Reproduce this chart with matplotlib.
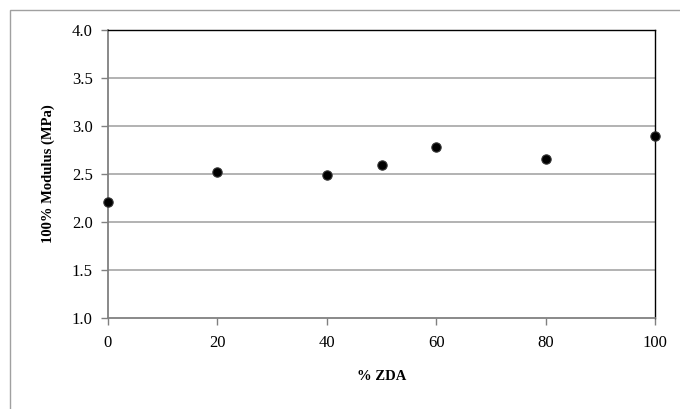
import matplotlib.pyplot as plt
from matplotlib.patches import Rectangle

zda = [0, 20, 40, 50, 60, 80, 100]
modulus = [2.21, 2.52, 2.49, 2.59, 2.78, 2.66, 2.90]
y_ticks = [1.0, 1.5, 2.0, 2.5, 3.0, 3.5, 4.0]
x_ticks = [0, 20, 40, 60, 80, 100]

plt.rcParams['font.family'] = ['Liberation Serif', 'DejaVu Serif']

fig = plt.figure(figsize=(6.8, 4.09), dpi=100)
ax = fig.add_axes([108 / 680, 1 - 318 / 409, (655 - 108) / 680, (318 - 30) / 409])

# outer chart border (cropped at right/bottom like the original)
fig.patches.append(Rectangle((10 / 680, -0.1), 1.1, 1 - 10 / 409 + 0.1,
                             transform=fig.transFigure, fill=False,
                             edgecolor='#a0a0a0', linewidth=1.0))

for y in y_ticks[1:-1]:
    ax.axhline(y, color='#a6a6a6', linewidth=1.2, zorder=1)

ax.scatter(zda, modulus, s=45, color='black', edgecolors='#333333',
           linewidths=0.8, zorder=3, clip_on=False)

ax.set_xlim(0, 100)
ax.set_ylim(1.0, 4.0)
ax.set_xticks(x_ticks)
ax.set_yticks(y_ticks)
ax.set_yticklabels([f'{v:.1f}' for v in y_ticks])

ax.spines['left'].set_color('#808080')
ax.spines['bottom'].set_color('#808080')
ax.spines['left'].set_linewidth(1.3)
ax.spines['bottom'].set_linewidth(1.3)
ax.spines['top'].set_color('black')
ax.spines['right'].set_color('black')
ax.spines['top'].set_linewidth(1.0)
ax.spines['right'].set_linewidth(1.0)

ax.tick_params(axis='both', direction='out', length=5, width=1.0,
               color='#808080', labelsize=12, labelcolor='black')
ax.tick_params(axis='x', pad=7)
ax.tick_params(axis='y', pad=6)

ax.set_xlabel('% ZDA', fontsize=10.5, fontweight='bold', labelpad=14)
ax.set_ylabel('100% Modulus (MPa)', fontsize=10.5, fontweight='bold', labelpad=12)

fig.savefig('out.png', dpi=100)
